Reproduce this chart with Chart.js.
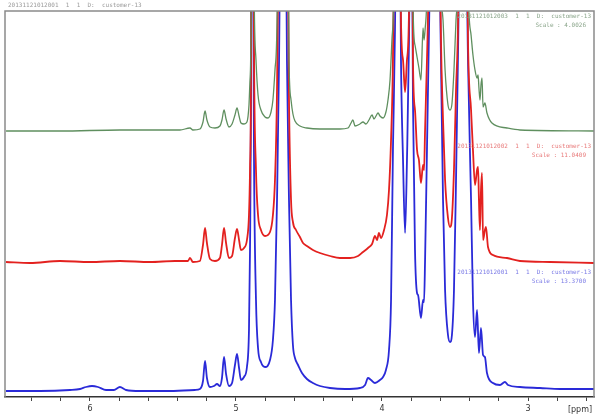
<!DOCTYPE html>
<html>
<head>
<meta charset="utf-8">
<script src="https://cdn.jsdelivr.net/npm/chart.js@4.4.1/dist/chart.umd.min.js"></script>
<style>
  html, body { margin: 0; padding: 0; background: #fff; }
  canvas { display: block; }
</style>
</head>
<body>
<canvas id="nmr" width="600" height="418"></canvas>
<script>
// chemical shift (ppm) and displayed intensity for each stacked trace
const bluePpm = [6.575, 6.342, 6.137, 6.068, 6.027, 5.986, 5.945, 5.890, 5.836, 5.795, 5.753, 5.658, 5.452, 5.281, 5.247,
  5.226, 5.212, 5.199, 5.178, 5.151, 5.130, 5.110, 5.096, 5.082, 5.068, 5.048, 5.027, 5.007, 4.993, 4.979, 4.966, 4.945, 4.925,
  4.911, 4.904, 4.897, 4.890, 4.877, 4.863, 4.849, 4.829, 4.801, 4.767, 4.747, 4.733, 4.719, 4.705, 4.678, 4.651, 4.637, 4.623,
  4.610, 4.596, 4.575, 4.548, 4.514, 4.473, 4.425, 4.356, 4.253, 4.151, 4.116, 4.096, 4.075, 4.048, 4.014, 3.993, 3.973, 3.952,
  3.938, 3.925, 3.911, 3.890, 3.870, 3.856, 3.842, 3.829, 3.815, 3.801, 3.788, 3.774, 3.760, 3.753, 3.733, 3.719, 3.712, 3.705,
  3.692, 3.678, 3.637, 3.596, 3.582, 3.568, 3.548, 3.534, 3.521, 3.507, 3.493, 3.479, 3.445, 3.411, 3.390, 3.377, 3.363, 3.349,
  3.336, 3.322, 3.308, 3.295, 3.281, 3.240, 3.192, 3.158, 3.137, 3.055, 2.918, 2.781, 2.548];
const blueVal = [6, 6, 7, 8, 10, 11, 10, 7, 7, 10, 7, 6, 6, 7, 8,
  16, 36, 19, 10, 11, 13, 11, 19, 40, 23, 11, 14, 32, 43, 29, 17, 20, 30,
  67, 147, 297, 700, 247, 97, 49, 35, 30, 37, 57, 97, 197, 337, 800, 337, 197, 97,
  52, 39, 32, 24, 18, 14, 11, 9, 8, 9, 12, 19, 17, 14, 17, 20, 27, 47,
  97, 247, 367, 700, 337, 237, 164, 237, 357, 600, 297, 147, 104, 102, 79, 97, 95, 137,
  247, 367, 700, 337, 197, 107, 62, 55, 62, 107, 217, 347, 700, 337, 197, 97, 60, 87,
  44, 69, 42, 40, 24, 14, 12, 15, 12, 10, 9, 8, 8];

const redPpm = [6.575, 6.411, 6.205, 6.000, 5.795, 5.589, 5.418, 5.329, 5.315, 5.295, 5.247,
  5.226, 5.212, 5.199, 5.178, 5.144, 5.110, 5.096, 5.082, 5.068, 5.048, 5.027, 5.007, 4.993, 4.979, 4.966, 4.945, 4.925,
  4.911, 4.904, 4.897, 4.890, 4.877, 4.863, 4.849, 4.829, 4.801, 4.767, 4.747, 4.733, 4.719, 4.678, 4.637, 4.623,
  4.610, 4.589, 4.562, 4.541, 4.514, 4.473, 4.425, 4.356, 4.288, 4.219, 4.164, 4.130, 4.096, 4.068, 4.048, 4.034, 4.021,
  4.007, 3.986, 3.966, 3.952, 3.938, 3.925, 3.890, 3.870, 3.856, 3.842, 3.829, 3.815, 3.801, 3.788, 3.774, 3.760, 3.747,
  3.733, 3.719, 3.712, 3.705, 3.692, 3.678, 3.637, 3.596, 3.582, 3.568, 3.548, 3.534, 3.521, 3.507, 3.493, 3.479, 3.445,
  3.411, 3.390, 3.377, 3.363, 3.349, 3.342, 3.336, 3.329, 3.322, 3.315, 3.308, 3.295, 3.288, 3.274, 3.240, 3.144, 3.055,
  2.849, 2.548];
const redVal = [135, 134, 136, 135, 136, 135, 136, 136, 139, 135, 136,
  152, 169, 154, 138, 136, 139, 152, 169, 154, 139, 141, 159, 168, 157, 147, 149, 157,
  182, 227, 337, 900, 357, 227, 182, 167, 161, 165, 182, 217, 307, 1000, 297, 197,
  175, 167, 160, 154, 151, 147, 144, 141, 139, 139, 141, 145, 149, 153, 161, 157, 164,
  159, 167, 182, 207, 257, 337, 900, 377, 337, 305, 337, 387, 800, 337, 287, 247, 237,
  214, 232, 227, 267, 337, 427, 900, 357, 277, 217, 179, 170, 179, 227, 307, 377, 900,
  357, 287, 247, 212, 227, 230, 197, 167, 207, 224, 157, 167, 170, 150, 142, 139, 136,
  135, 134];

const greenPpm = [6.575, 6.205, 5.795, 5.384, 5.315, 5.295, 5.247,
  5.226, 5.212, 5.199, 5.178, 5.144, 5.110, 5.096, 5.082, 5.068, 5.048, 5.027, 5.007, 4.993, 4.979, 4.966, 4.945, 4.925,
  4.911, 4.904, 4.897, 4.890, 4.877, 4.863, 4.849, 4.829, 4.801, 4.781, 4.760, 4.747, 4.733, 4.719, 4.678, 4.637, 4.623,
  4.610, 4.596, 4.562, 4.514, 4.425, 4.288, 4.233, 4.212, 4.199, 4.185, 4.151, 4.130, 4.110, 4.089, 4.068, 4.055, 4.041,
  4.027, 4.014, 3.993, 3.973, 3.959, 3.945, 3.932, 3.918, 3.890, 3.842, 3.801, 3.788, 3.774, 3.760, 3.747, 3.733, 3.719,
  3.712, 3.705, 3.692, 3.637, 3.603, 3.582, 3.568, 3.548, 3.534, 3.521, 3.507, 3.493, 3.479, 3.445, 3.411, 3.390, 3.377,
  3.363, 3.349, 3.342, 3.336, 3.329, 3.322, 3.315, 3.308, 3.295, 3.281, 3.247, 3.144, 3.055, 2.548];
const greenVal = [266, 266, 267, 267, 269, 267, 268,
  275, 286, 277, 270, 269, 271, 277, 287, 278, 270, 273, 282, 289, 281, 274, 273, 275,
  292, 317, 377, 1000, 427, 337, 302, 287, 280, 279, 285, 297, 327, 377, 1200, 337, 297,
  283, 276, 271, 269, 268, 268, 269, 274, 277, 271, 273, 275, 273, 277, 282, 278, 281,
  284, 281, 279, 285, 297, 317, 357, 417, 1100, 417, 1000, 397, 352, 340, 329, 317, 369,
  357, 367, 407, 1100, 437, 377, 327, 292, 287, 293, 327, 377, 427, 1100, 417, 362, 342,
  327, 319, 322, 309, 297, 312, 319, 290, 294, 284, 274, 269, 267, 266];

const xTicks = [6, 5, 4, 3];
const headerText = "20131121012001  1  1  D:  customer-13";
const traceLabels = [
  "20131121012003  1  1  D:  customer-13",
  "20131121012002  1  1  D:  customer-13",
  "20131121012001  1  1  D:  customer-13"
];
const traceScales = ["Scale : 4.0026", "Scale : 11.0409", "Scale : 13.3700"];

function toPoints(ppm, val) {
  return ppm.map((p, i) => ({ x: p, y: val[i] }));
}

const labelColors = ["#8aa58a", "#e87a7a", "#7a7ae6"];

const decorations = {
  id: "decorations",
  afterDraw(chart) {
    const { ctx, chartArea } = chart;
    ctx.save();
    // frame round the plot
    ctx.strokeStyle = "#8a8a8a";
    ctx.lineWidth = 1.5;
    ctx.beginPath();
    ctx.moveTo(chartArea.left, chartArea.bottom);
    ctx.lineTo(chartArea.left, chartArea.top);
    ctx.lineTo(chartArea.right, chartArea.top);
    ctx.lineTo(chartArea.right, chartArea.bottom);
    ctx.stroke();

    ctx.font = "6px 'DejaVu Sans Mono'";
    ctx.textBaseline = "middle";
    ctx.fillStyle = "#9a9a9a";
    ctx.textAlign = "left";
    ctx.fillText(headerText, chartArea.left + 3, 5);

    // label block of each trace, right aligned
    const labelTops = [16, 146, 272];
    ctx.textAlign = "right";
    traceLabels.forEach((t, i) => {
      ctx.fillStyle = labelColors[i];
      ctx.fillText(t, chartArea.right - 3, labelTops[i]);
      ctx.fillText(traceScales[i], chartArea.right - 8, labelTops[i] + 9);
    });

    ctx.font = "8px 'DejaVu Sans'";
    ctx.fillStyle = "#333";
    ctx.textAlign = "center";
    ctx.fillText("[ppm]", chartArea.right - 14, chartArea.bottom + 13);
    ctx.restore();
  }
};

const context = document.getElementById("nmr").getContext("2d");

new Chart(context, {
  type: "line",
  data: {
    datasets: [
      { label: "003", data: toPoints(greenPpm, greenVal), borderColor: "#5f8f5f", borderWidth: 1.3 },
      { label: "002", data: toPoints(redPpm, redVal), borderColor: "#e3211f", borderWidth: 1.8 },
      { label: "001", data: toPoints(bluePpm, blueVal), borderColor: "#2a2ad8", borderWidth: 1.8 }
    ]
  },
  options: {
    responsive: false,
    animation: false,
    layout: { padding: { left: 5, right: 6, top: 11, bottom: 0 } },
    elements: {
      point: { radius: 0 },
      line: { cubicInterpolationMode: "monotone", fill: false }
    },
    plugins: { legend: { display: false }, tooltip: { enabled: false } },
    scales: {
      x: {
        type: "linear",
        reverse: true,
        min: 2.548,
        max: 6.582,
        border: { display: true, color: "#333", width: 1.5 },
        grid: { drawOnChartArea: false, drawTicks: true, tickLength: 4, color: "#444" },
        ticks: {
          stepSize: 0.2,
          includeBounds: false,
          autoSkip: false,
          maxRotation: 0,
          padding: 3,
          color: "#333",
          font: { size: 8, family: "DejaVu Sans" },
          callback: v => {
            const r = Math.round(v);
            return Math.abs(v - r) < 1e-6 && xTicks.includes(r) ? String(r) : "";
          }
        },
        afterFit: s => { s.height = 21; }
      },
      y: { display: false, min: 0, max: 386 }
    }
  },
  plugins: [decorations]
});
</script>
</body>
</html>
